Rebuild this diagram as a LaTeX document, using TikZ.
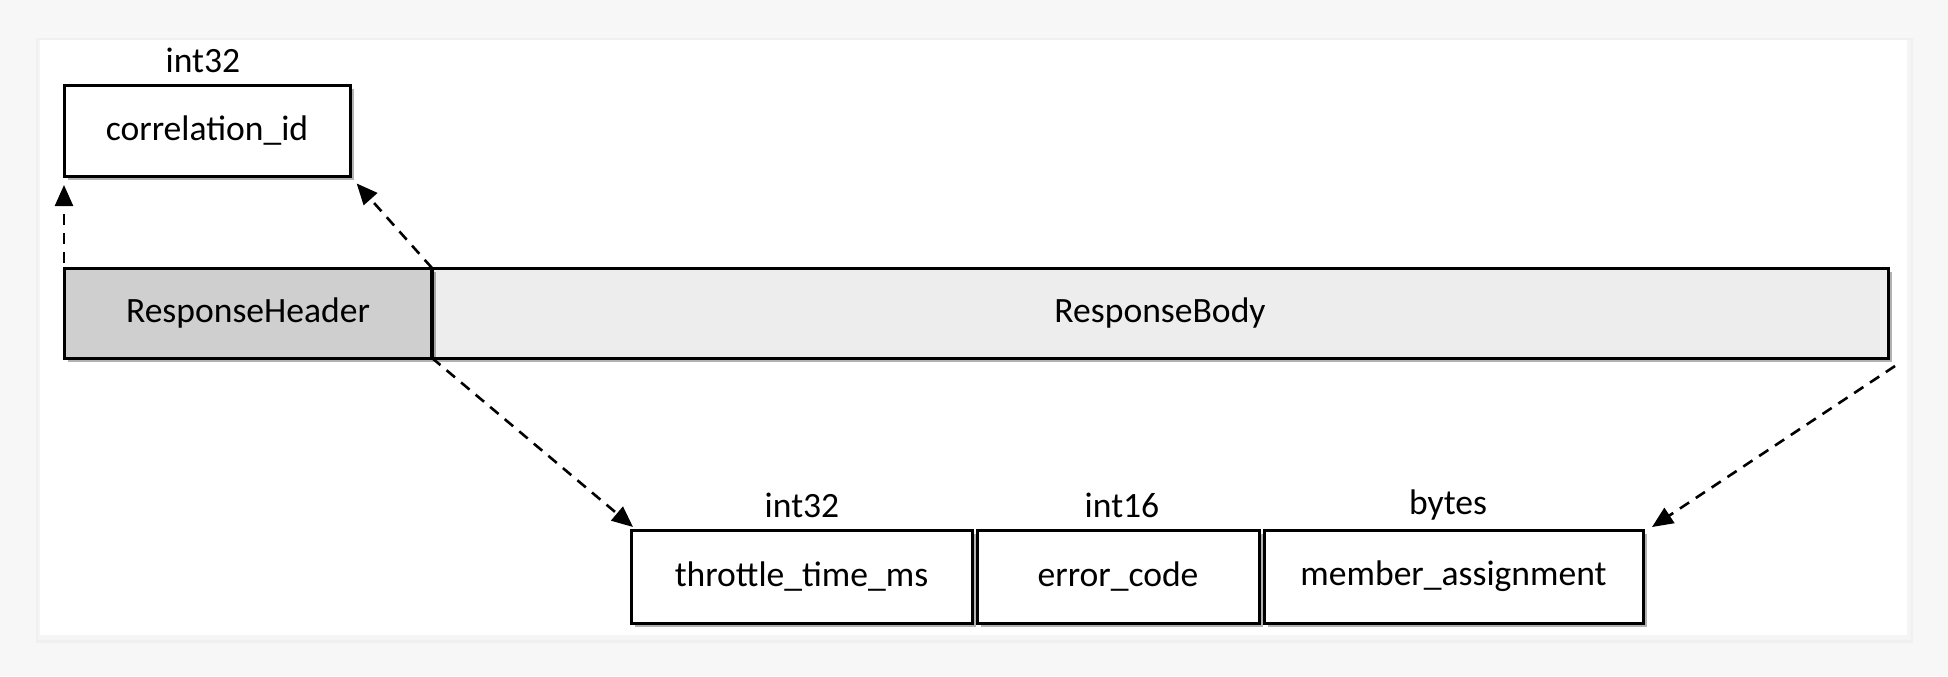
\documentclass[tikz,border=0pt]{standalone}
\usepackage{fontspec}
\setmainfont{Carlito}
\usetikzlibrary{arrows.meta,shadows,calc}
\tikzset{
  box/.style={draw=black, line width=1.5pt, rectangle, inner sep=0pt, outer sep=0pt,
    font=\fontsize{17.8}{20}\selectfont,
    drop shadow={shadow xshift=2pt, shadow yshift=-2pt, opacity=0.3, fill=black}},
  lbl/.style={font=\fontsize{17.8}{20}\selectfont, inner sep=0pt},
  link/.style={line width=1.3pt, dash pattern=on 5.5pt off 4pt,
    -{Triangle[length=10.5pt,width=9pt]}}
}
\begin{document}
\begin{tikzpicture}[x=0.5pt,y=-0.5pt]
\useasboundingbox (0,0) rectangle (1948,676);
\fill[black!3] (0,0) rectangle (1948,676);
\fill[black!6] (36,38) rectangle (1913,643);
\fill[black!4] (38,40) rectangle (1911,640);
\fill[white] (40,40) rectangle (1907,635);

\node[box, fill=white, minimum width=143pt, minimum height=45.5pt] (corr) at (207,130.5) {correlation\_id};
\node[lbl] (corrT) at (203,60) {int32};

\node[box, fill=black!7, minimum width=728pt, minimum height=45pt] (body) at (1160,313) {ResponseBody};
\node[box, fill=black!19, minimum width=184pt, minimum height=45pt] (hdr) at (248,313) {ResponseHeader};
\draw[line width=2.4pt] (hdr.north east) -- (hdr.south east);

\node[box, fill=white, minimum width=170.5pt, minimum height=46.5pt] (thr) at (801.5,576.5) {throttle\_time\_ms};
\node[box, fill=white, minimum width=141pt, minimum height=46.5pt] (err) at (1118,576.5) {error\_code};
\node[box, fill=white, minimum width=189.5pt, minimum height=46.5pt] (mem) at (1453.5,576.5) {member\_assignment};
\node[lbl] (thrT) at (802,505) {int32};
\node[lbl] (errT) at (1122,505) {int16};
\node[lbl] (memT) at (1448,505) {bytes};

\draw[link, shorten >=4.5pt, shorten <=2.5pt] (hdr.north west) -- (corr.south west);
\draw[link, shorten >=5pt] (hdr.north east) -- (corr.south east);
\draw[link] (hdr.south east) -- ($(thr.north west)+(2,-3)$);
\draw[link] ($(body.south east)+(7,8)$) -- ($(mem.north east)+(9,-3)$);
\end{tikzpicture}
\end{document}
